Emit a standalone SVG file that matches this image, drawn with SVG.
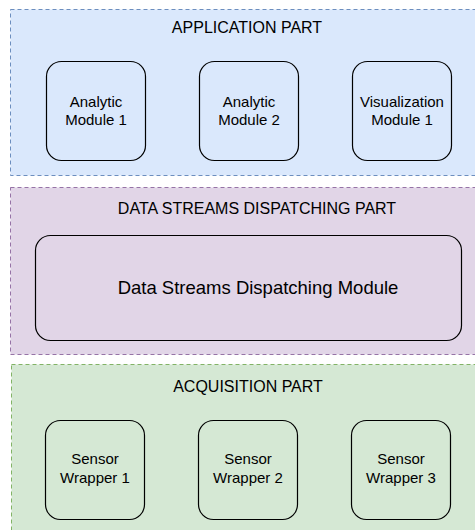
<svg xmlns="http://www.w3.org/2000/svg" width="475" height="530" viewBox="0 0 475 530">
<style>
.cont{stroke-width:1;stroke-dasharray:4 3}
.node{fill:none;stroke:#000;stroke-width:1.2}
text{font-family:"Liberation Sans",Arial,Helvetica,sans-serif;fill:#000;text-anchor:middle}
.h{font-size:16px}
.t{font-size:15px}
.big{font-size:18.5px}
</style>
<rect width="475" height="530" fill="#fff"/>
<g id="application-part">
<rect class="cont" x="10.5" y="9.5" width="475" height="166" fill="#dae8fc" stroke="#6c8ebf"/>
<text class="h" x="247" y="33">APPLICATION PART</text>
</g>
<g id="dispatching-part">
<rect class="cont" x="10.5" y="187.5" width="475" height="167" fill="#e1d5e7" stroke="#9673a6"/>
<text class="h" x="257" y="214">DATA STREAMS DISPATCHING PART</text>
</g>
<g id="acquisition-part">
<rect class="cont" x="11.5" y="364.5" width="475" height="175" fill="#d5e8d4" stroke="#82b366"/>
<text class="h" x="248" y="392">ACQUISITION PART</text>
</g>
<g id="analytic-module-1">
<rect class="node" x="46.5" y="61.5" width="99" height="99" rx="15"/>
<text class="t" x="96" y="107">Analytic</text>
<text class="t" x="96" y="125">Module 1</text>
</g>
<g id="analytic-module-2">
<rect class="node" x="199.5" y="61.5" width="99" height="99" rx="15"/>
<text class="t" x="249" y="107">Analytic</text>
<text class="t" x="249" y="125">Module 2</text>
</g>
<g id="visualization-module-1">
<rect class="node" x="352.5" y="61.5" width="99" height="99" rx="15"/>
<text class="t" x="402" y="107">Visualization</text>
<text class="t" x="402" y="125">Module 1</text>
</g>
<g id="dispatching-module">
<rect class="node" x="35.5" y="235.5" width="426" height="105" rx="15"/>
<text class="big" x="258" y="294">Data Streams Dispatching Module</text>
</g>
<g id="sensor-wrapper-1">
<rect class="node" x="45.5" y="420.5" width="99" height="99" rx="15"/>
<text class="t" x="95" y="464">Sensor</text>
<text class="t" x="95" y="483">Wrapper 1</text>
</g>
<g id="sensor-wrapper-2">
<rect class="node" x="198.5" y="420.5" width="99" height="99" rx="15"/>
<text class="t" x="248" y="464">Sensor</text>
<text class="t" x="248" y="483">Wrapper 2</text>
</g>
<g id="sensor-wrapper-3">
<rect class="node" x="351.5" y="420.5" width="99" height="99" rx="15"/>
<text class="t" x="401" y="464">Sensor</text>
<text class="t" x="401" y="483">Wrapper 3</text>
</g>
<g id="connectors"></g>
</svg>
